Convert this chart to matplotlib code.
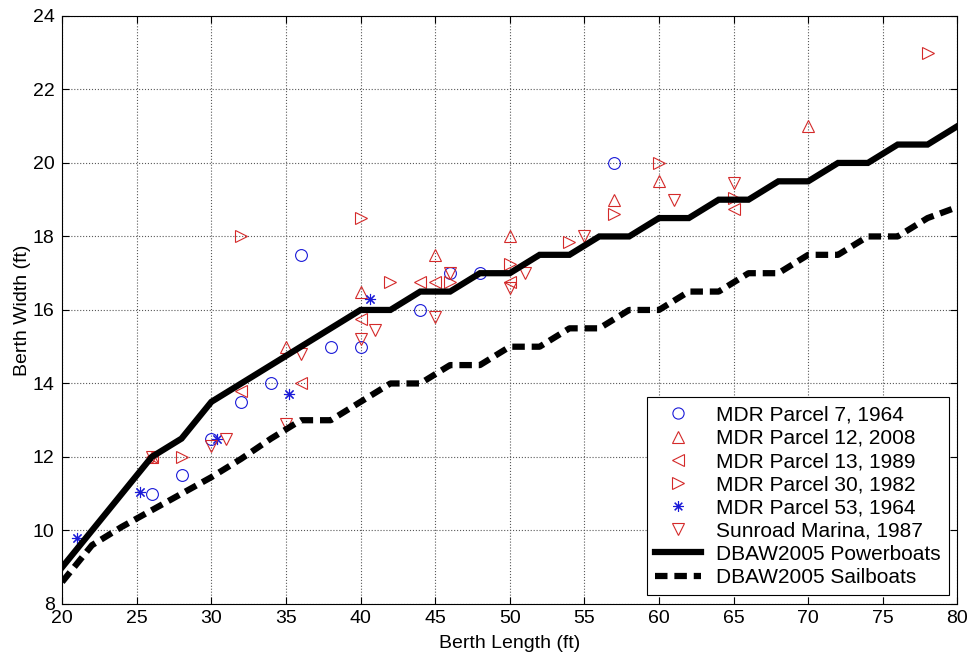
import numpy as np
import matplotlib
matplotlib.use("Agg")
import matplotlib.pyplot as plt

plt.rcParams['font.family'] = ['Liberation Sans', 'DejaVu Sans']

# survey data
p7_len = [26, 28, 30, 32, 34, 36, 38, 40, 44, 46, 48, 57]
p7_wid = [11, 11.5, 12.5, 13.5, 14, 17.5, 15, 15, 16, 17, 17, 20]

p12_len = [26, 35, 40, 45, 50, 57, 60, 70]
p12_wid = [12, 15, 16.5, 17.5, 18, 19, 19.5, 21]

p13_len = [26, 32, 36, 40, 44, 45, 50, 65]
p13_wid = [12, 13.8, 14, 15.75, 16.75, 16.75, 16.75, 18.75]

p30_len = [28, 32, 40, 42, 46, 50, 54, 57, 60, 65, 78]
p30_wid = [12, 18, 18.5, 16.75, 16.75, 17.25, 17.85, 18.6, 20, 19.05, 23]

p53_len = [21, 25.2, 30.4, 35.2, 40.6]
p53_wid = [9.8, 11.05, 12.5, 13.7, 16.3]

sun_len = [26, 30, 31, 35, 36, 40, 41, 45, 46, 50, 51, 55, 61, 65]
sun_wid = [12, 12.3, 12.5, 12.9, 14.8, 15.2, 15.45, 15.8, 17, 16.6, 17, 18, 19, 19.45]

# DBAW 2005 guideline curves
dbaw_len = list(range(20, 81, 2))
power_wid = [9, 10, 11, 12, 12.5, 13.5, 14, 14.5, 15, 15.5, 16, 16, 16.5, 16.5,
             17, 17, 17.5, 17.5, 18, 18, 18.5, 18.5, 19, 19, 19.5, 19.5,
             20, 20, 20.5, 20.5, 21]
sail_wid = [8.6, 9.6, 10.1, 10.55, 11, 11.45, 11.95, 12.5, 13, 13, 13.5, 14, 14,
            14.5, 14.5, 15, 15, 15.5, 15.5, 16, 16, 16.5, 16.5, 17, 17, 17.5,
            17.5, 18, 18, 18.5, 18.8]

fig = plt.figure(figsize=(9.71, 6.63), dpi=100)
ax = fig.add_axes([0.064, 0.089, 0.922, 0.887])

red = '#d42a2a'
blue = '#1a1ad8'
ms = 8.5
ax.plot(p7_len, p7_wid, 'o', ls='none', mfc='none', mec=blue, ms=ms, mew=0.8,
        label='MDR Parcel 7, 1964')
ax.plot(p12_len, p12_wid, '^', ls='none', mfc='none', mec=red, ms=ms, mew=0.8,
        label='MDR Parcel 12, 2008')
ax.plot(p13_len, p13_wid, '<', ls='none', mfc='none', mec=red, ms=ms, mew=0.8,
        label='MDR Parcel 13, 1989')
ax.plot(p30_len, p30_wid, '>', ls='none', mfc='none', mec=red, ms=ms, mew=0.8,
        label='MDR Parcel 30, 1982')
ax.plot(p53_len, p53_wid, marker=(8, 2, 0), ls='none', color=blue, ms=8, mew=0.8,
        label='MDR Parcel 53, 1964')
ax.plot(sun_len, sun_wid, 'v', ls='none', mfc='none', mec=red, ms=ms, mew=0.8,
        label='Sunroad Marina, 1987')
ax.plot(dbaw_len, power_wid, '-', color='k', lw=4.5, solid_joinstyle='miter',
        label='DBAW2005 Powerboats')
ax.plot(dbaw_len, sail_wid, color='k', lw=4.5, dashes=(2, 1.1),
        label='DBAW2005 Sailboats')

ax.set_xlim(20, 80)
ax.set_ylim(8, 24)
ax.set_xticks(np.arange(20, 81, 5))
ax.set_yticks(np.arange(8, 25, 2))
ax.grid(True, ls=':', color='0.35', lw=0.8)
ax.tick_params(direction='in', top=True, right=True, length=5, labelsize=14,
               width=0.8)
ax.tick_params(axis='x', pad=4.5)
ax.tick_params(axis='y', pad=5.5)
for s in ax.spines.values():
    s.set_linewidth(0.8)
ax.set_xlabel('Berth Length (ft)', fontsize=14)
ax.set_ylabel('Berth Width (ft)', fontsize=14)
ax.xaxis.set_label_coords(0.5, -0.053)
ax.yaxis.set_label_coords(-0.035, 0.5)

leg = ax.legend(loc='lower right', fontsize=15, frameon=True, fancybox=False,
                framealpha=1, edgecolor='k', labelspacing=0.2, borderpad=0.4,
                handlelength=2.2, handletextpad=0.7, borderaxespad=0.42,
                markerscale=0.95)
leg.get_frame().set_linewidth(0.8)

fig.savefig('out.png', dpi=100)
